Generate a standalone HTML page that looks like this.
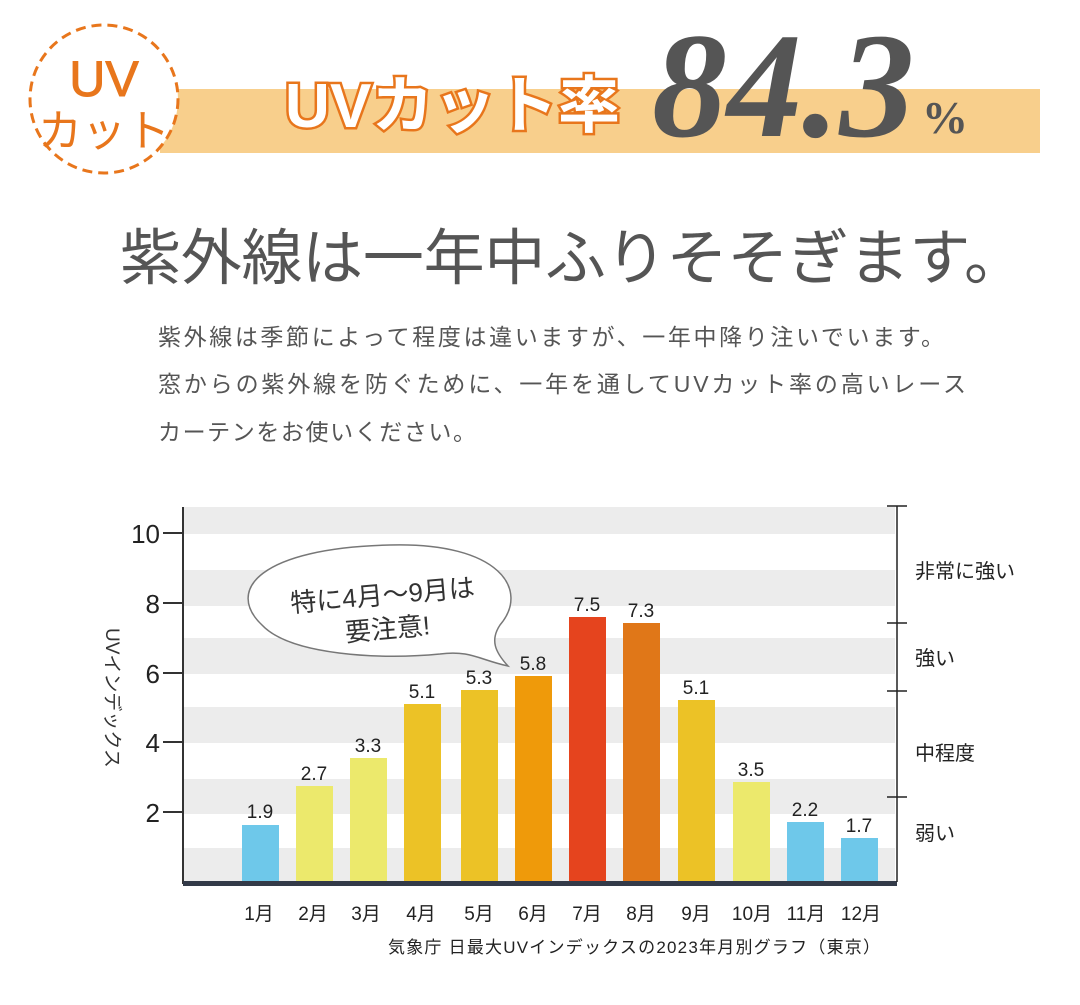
<!DOCTYPE html>
<html><head><meta charset="utf-8"><style>
body{margin:0;background:#fff;}
svg{display:block}
</style></head><body>
<svg width="1080" height="1005" viewBox="0 0 1080 1005" xmlns="http://www.w3.org/2000/svg" font-family="Liberation Sans, Noto Sans CJK JP, sans-serif">
<rect width="1080" height="1005" fill="#fff"/>
<!-- header -->
<rect x="160" y="89" width="880" height="64" fill="#f8cf8c"/>
<circle cx="104" cy="99" r="74" fill="#fff" stroke="#e8761c" stroke-width="3" stroke-dasharray="10 6"/>
<text x="104" y="96" text-anchor="middle" font-size="50" fill="#e8761c" stroke="#e8761c" stroke-width="1">UV</text>
<text x="104" y="146" text-anchor="middle" font-size="44" fill="#e8761c">カット</text>
<text x="285" y="127" font-size="62" font-weight="bold" fill="#fff" stroke="#e8761c" stroke-width="5" paint-order="stroke" textLength="335">UVカット率</text>
<text transform="translate(652,136) scale(1.25,1.25)" font-family="Liberation Serif, serif" font-style="italic" font-weight="bold" font-size="120" fill="#555">84.3</text>
<text x="922" y="133" font-family="Liberation Serif, serif" font-weight="bold" font-size="46" fill="#555">%</text>
<!-- heading -->
<text x="120" y="279" font-size="61" fill="#555" textLength="905">紫外線は一年中ふりそそぎます。</text>
<g font-size="23" fill="#555">
<text x="158" y="345" textLength="786">紫外線は季節によって程度は違いますが、一年中降り注いでいます。</text>
<text x="158" y="392" textLength="808">窓からの紫外線を防ぐために、一年を通してUVカット率の高いレース</text>
<text x="158" y="440" textLength="318">カーテンをお使いください。</text>
</g>
<!-- chart stripes -->
<g fill="#ececec">
<rect x="183" y="507" width="712" height="27"/>
<rect x="183" y="570" width="712" height="36"/>
<rect x="183" y="638" width="712" height="36"/>
<rect x="183" y="707" width="712" height="36"/>
<rect x="183" y="779" width="712" height="35"/>
<rect x="183" y="848" width="712" height="34"/>
</g>
<line x1="183" y1="507" x2="183" y2="884" stroke="#333" stroke-width="2"/>
<g stroke="#333" stroke-width="2">
<line x1="163" y1="533" x2="183" y2="533"/>
<line x1="163" y1="603" x2="183" y2="603"/>
<line x1="163" y1="673" x2="183" y2="673"/>
<line x1="163" y1="742" x2="183" y2="742"/>
<line x1="163" y1="812" x2="183" y2="812"/>
</g>
<g font-size="26" fill="#222" text-anchor="end">
<text x="160" y="543">10</text><text x="160" y="613">8</text><text x="160" y="683">6</text><text x="160" y="752">4</text><text x="160" y="822">2</text>
</g>
<text transform="translate(106,628) rotate(90)" font-size="19" fill="#333">UVインデックス</text>
<!-- bars -->
<g>
<rect x="242" y="825" width="37" height="57" fill="#6ec8ea"/>
<rect x="296" y="786" width="37" height="96" fill="#ece96c"/>
<rect x="350" y="758" width="37" height="124" fill="#ece96c"/>
<rect x="404" y="704" width="37" height="178" fill="#ecc226"/>
<rect x="461" y="690" width="37" height="192" fill="#ecc226"/>
<rect x="515" y="676" width="37" height="206" fill="#ef9a0a"/>
<rect x="569" y="617" width="37" height="265" fill="#e5441e"/>
<rect x="623" y="623" width="37" height="259" fill="#e07718"/>
<rect x="678" y="700" width="37" height="182" fill="#ecc226"/>
<rect x="733" y="782" width="37" height="100" fill="#ece96c"/>
<rect x="787" y="822" width="37" height="60" fill="#6ec8ea"/>
<rect x="841" y="838" width="37" height="44" fill="#6ec8ea"/>
</g>
<g font-size="19" fill="#222" text-anchor="middle">
<text x="260" y="818">1.9</text><text x="314" y="780">2.7</text><text x="368" y="752">3.3</text>
<text x="422" y="698">5.1</text><text x="479" y="684">5.3</text><text x="533" y="670">5.8</text>
<text x="587" y="611">7.5</text><text x="641" y="617">7.3</text><text x="696" y="694">5.1</text>
<text x="751" y="776">3.5</text><text x="805" y="816">2.2</text><text x="859" y="832">1.7</text>
</g>
<rect x="183" y="881" width="714" height="5" fill="#333a48"/>
<g font-size="19" fill="#222" text-anchor="middle">
<text x="259" y="920">1月</text><text x="313" y="920">2月</text><text x="366" y="920">3月</text>
<text x="421" y="920">4月</text><text x="479" y="920">5月</text><text x="533" y="920">6月</text>
<text x="587" y="920">7月</text><text x="641" y="920">8月</text><text x="696" y="920">9月</text>
<text x="752" y="920">10月</text><text x="806" y="920">11月</text><text x="861" y="920">12月</text>
</g>
<text x="388" y="953" font-size="17" fill="#222" textLength="492">気象庁 日最大UVインデックスの2023年月別グラフ（東京）</text>
<!-- right ranges -->
<g stroke="#222" stroke-width="1.5">
<line x1="897" y1="506" x2="897" y2="882"/>
<line x1="887" y1="506" x2="907" y2="506"/>
<line x1="887" y1="623" x2="907" y2="623"/>
<line x1="887" y1="691" x2="907" y2="691"/>
<line x1="887" y1="797" x2="907" y2="797"/>
</g>
<g font-size="20" fill="#222">
<text x="915" y="578">非常に強い</text><text x="915" y="665">強い</text>
<text x="915" y="760">中程度</text><text x="915" y="840">弱い</text>
</g>
<!-- bubble -->
<path d="M262,625 C225,590 260,548 390,545 C500,542 530,590 500,625 C490,640 495,652 508,666 C480,660 470,650 440,654 C380,660 290,655 262,625 Z" fill="#fff" stroke="#777" stroke-width="1.5"/>
<g transform="rotate(-5 385 600)" font-size="26" fill="#333" text-anchor="middle">
<text x="383" y="604">特に4月～9月は</text>
<text x="385" y="638">要注意!</text>
</g>
</svg>
</body></html>
